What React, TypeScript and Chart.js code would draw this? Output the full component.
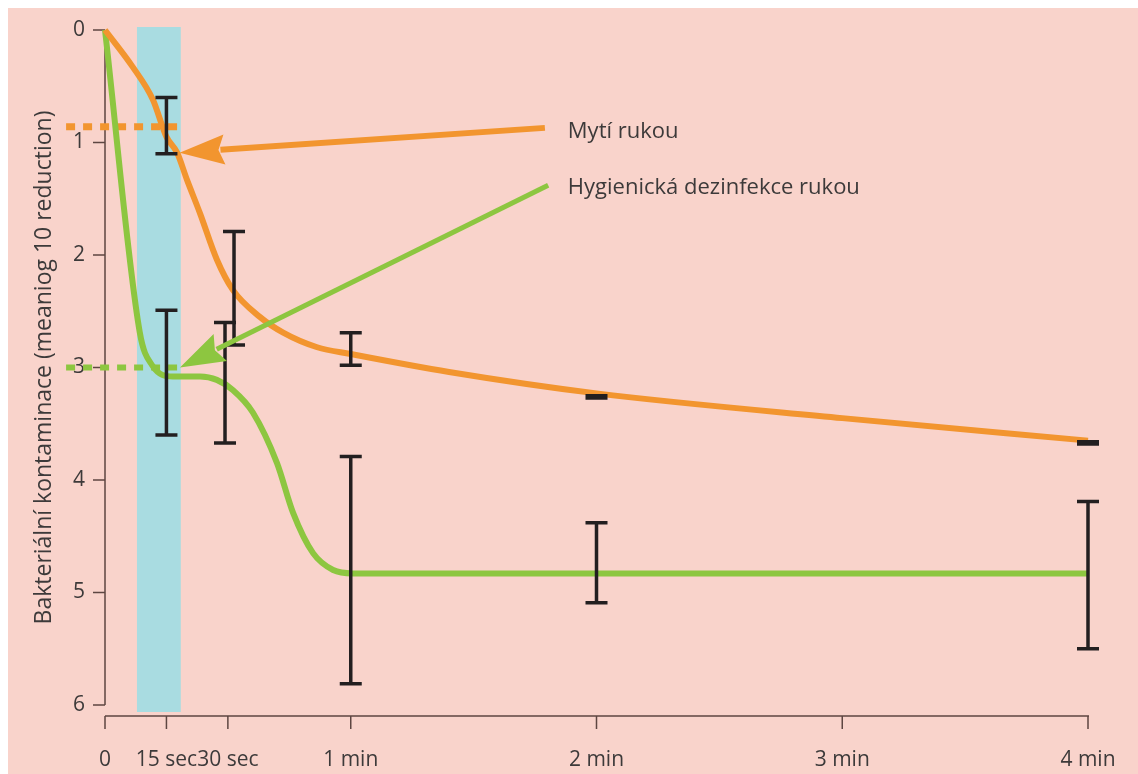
import React, { useEffect, useRef } from 'react';
import { Chart, registerables } from 'chart.js';

Chart.register(...registerables);

// ---- data ----
const X_TICKS = [0, 15, 30, 60, 120, 180, 240];
const X_TICK_LABELS = ['0', '15 sec', '30 sec', '1 min', '2 min', '3 min', '4 min'];
const Y_TICKS = [0, 1, 2, 3, 4, 5, 6];

const ORANGE_X = [0, 6.8, 11.7, 15, 17.6, 20, 23.2, 27.3, 31.2, 37.8, 43.5, 51.8, 60, 84, 120, 180, 240];
const ORANGE_Y = [0, 0.33, 0.62, 0.95, 1.09, 1.33, 1.63, 2.04, 2.31, 2.55, 2.69, 2.82, 2.88, 3.04, 3.23, 3.45, 3.65];

const GREEN_X = [0, 8.5, 11.5, 16.6, 23.2, 27.3, 31.2, 36.1, 42, 45.9, 50.8, 55.7, 60.5, 120, 240];
const GREEN_Y = [0, 2.69, 2.98, 3.08, 3.08, 3.11, 3.2, 3.4, 3.85, 4.29, 4.65, 4.8, 4.83, 4.83, 4.83];

const ORANGE_ERR_X = [15, 31.5, 60, 120, 240];
const ORANGE_ERR_LOW = [0.6, 1.79, 2.69, 3.25, 3.66];
const ORANGE_ERR_HIGH = [1.1, 2.8, 2.98, 3.27, 3.68];

const GREEN_ERR_X = [15, 29.3, 60, 120, 240];
const GREEN_ERR_LOW = [2.49, 2.6, 3.79, 4.38, 4.19];
const GREEN_ERR_HIGH = [3.6, 3.67, 5.81, 5.09, 5.5];

const BAND_RANGE = [7.8, 18.5];

const SERIES_NAMES = ['Mytí rukou', 'Hygienická dezinfekce rukou'];
const REF_LEVELS = [0.86, 3.0];
const REF_X_RANGE = [-9.5, 19];
// arrows: [fromX, fromY, toX, toY] in data units
const ORANGE_ARROW = [107.4, 0.87, 18.2, 1.09];
const GREEN_ARROW = [108.2, 1.38, 18.3, 3.0];
const LABEL_POS = [[113, 0.9], [113, 1.4]];

const Y_TITLE = 'Bakteriální kontaminace (meaniog 10 reduction)';

// ---- styles ----
const BG = '#f9d3cb';
const ORANGE = '#f2952f';
const GREEN = '#8dc640';
const BAND = '#a9dce1';
const BAR = '#231f20';
const AXIS = '#5e4642';
const TEXT = '#3d3a3a';
const FONT = '"Open Sans", "Noto Sans", sans-serif';

function drawArrow(ctx: CanvasRenderingContext2D, x0: number, y0: number, x1: number, y1: number, color: string, width: number) {
  const dx = x1 - x0;
  const dy = y1 - y0;
  const len = Math.hypot(dx, dy);
  const ux = dx / len;
  const uy = dy / len;
  const headLen = 45;
  const headHalf = 15;
  const bx = x1 - ux * headLen;
  const by = y1 - uy * headLen;
  ctx.save();
  ctx.strokeStyle = color;
  ctx.fillStyle = color;
  ctx.lineWidth = width;
  ctx.lineCap = 'butt';
  ctx.beginPath();
  ctx.moveTo(x0, y0);
  ctx.lineTo(bx + ux * 4, by + uy * 4);
  ctx.stroke();
  ctx.beginPath();
  ctx.moveTo(x1, y1);
  ctx.lineTo(bx - uy * headHalf, by + ux * headHalf);
  ctx.lineTo(bx + ux * 6, by + uy * 6);
  ctx.lineTo(bx + uy * headHalf, by - ux * headHalf);
  ctx.closePath();
  ctx.fill();
  ctx.restore();
}

const customPlugin = {
  id: 'custom',
  beforeDraw(chart: any) {
    const { ctx, width, height } = chart;
    ctx.save();
    ctx.fillStyle = BG;
    ctx.fillRect(0, 0, width, height);
    ctx.restore();
  },
  beforeDatasetsDraw(chart: any) {
    const { ctx, chartArea, scales } = chart;
    const x = scales.x;
    const y = scales.y;
    ctx.save();
    // band
    const bx0 = x.getPixelForValue(BAND_RANGE[0]);
    const bx1 = x.getPixelForValue(BAND_RANGE[1]);
    ctx.fillStyle = BAND;
    ctx.fillRect(bx0, chartArea.top - 3, bx1 - bx0, chartArea.bottom - chartArea.top + 10);

    // axes
    ctx.strokeStyle = AXIS;
    ctx.lineWidth = 1.5;
    ctx.beginPath();
    ctx.moveTo(chartArea.left, chartArea.top);
    ctx.lineTo(chartArea.left, chartArea.bottom);
    for (const v of Y_TICKS) {
      const py = y.getPixelForValue(v);
      ctx.moveTo(chartArea.left - 12, py);
      ctx.lineTo(chartArea.left, py);
    }
    const ay = chartArea.bottom + 11;
    ctx.moveTo(chartArea.left, ay);
    ctx.lineTo(chartArea.right + 1, ay);
    for (const v of X_TICKS) {
      const px = x.getPixelForValue(v);
      ctx.moveTo(px, ay);
      ctx.lineTo(px, ay + 13);
    }
    ctx.stroke();

    // dashed reference lines
    const colors = [ORANGE, GREEN];
    const widths = [7, 6];
    REF_LEVELS.forEach((lv, i) => {
      ctx.strokeStyle = colors[i];
      ctx.lineWidth = widths[i];
      ctx.setLineDash([9, 8]);
      ctx.beginPath();
      const py = y.getPixelForValue(lv);
      ctx.moveTo(x.getPixelForValue(REF_X_RANGE[0]), py);
      ctx.lineTo(x.getPixelForValue(REF_X_RANGE[1]), py);
      ctx.stroke();
    });
    ctx.setLineDash([]);
    ctx.restore();
  },
  afterDatasetsDraw(chart: any) {
    const { ctx, scales } = chart;
    const x = scales.x;
    const y = scales.y;
    ctx.save();
    // error bars
    ctx.strokeStyle = BAR;
    ctx.lineWidth = 3.5;
    const drawBars = (xs: number[], lo: number[], hi: number[]) => {
      xs.forEach((xv, i) => {
        const px = x.getPixelForValue(xv);
        const p0 = y.getPixelForValue(lo[i]);
        const p1 = y.getPixelForValue(hi[i]);
        ctx.beginPath();
        ctx.moveTo(px, p0);
        ctx.lineTo(px, p1);
        ctx.moveTo(px - 11, p0);
        ctx.lineTo(px + 11, p0);
        ctx.moveTo(px - 11, p1);
        ctx.lineTo(px + 11, p1);
        ctx.stroke();
      });
    };
    drawBars(ORANGE_ERR_X, ORANGE_ERR_LOW, ORANGE_ERR_HIGH);
    drawBars(GREEN_ERR_X, GREEN_ERR_LOW, GREEN_ERR_HIGH);

    // arrows
    drawArrow(ctx, x.getPixelForValue(ORANGE_ARROW[0]), y.getPixelForValue(ORANGE_ARROW[1]),
      x.getPixelForValue(ORANGE_ARROW[2]), y.getPixelForValue(ORANGE_ARROW[3]), ORANGE, 6);
    drawArrow(ctx, x.getPixelForValue(GREEN_ARROW[0]), y.getPixelForValue(GREEN_ARROW[1]),
      x.getPixelForValue(GREEN_ARROW[2]), y.getPixelForValue(GREEN_ARROW[3]), GREEN, 5);

    // labels
    ctx.fillStyle = TEXT;
    ctx.font = `22px ${FONT}`;
    ctx.textAlign = 'left';
    ctx.textBaseline = 'middle';
    SERIES_NAMES.forEach((name, i) => {
      ctx.fillText(name, x.getPixelForValue(LABEL_POS[i][0]), y.getPixelForValue(LABEL_POS[i][1]));
    });
    ctx.restore();
  },
};

export default function App() {
  const ref = useRef<HTMLCanvasElement>(null);
  useEffect(() => {
    const canvas = ref.current;
    if (!canvas) return;
    const chart = new Chart(canvas, {
      type: 'line',
      data: {
        datasets: [
          {
            label: SERIES_NAMES[0],
            data: ORANGE_X.map((v, i) => ({ x: v, y: ORANGE_Y[i] })),
            borderColor: ORANGE,
            borderWidth: 6,
            pointRadius: 0,
            cubicInterpolationMode: 'monotone',
            fill: false,
            clip: false,
          } as any,
          {
            label: SERIES_NAMES[1],
            data: GREEN_X.map((v, i) => ({ x: v, y: GREEN_Y[i] })),
            borderColor: GREEN,
            borderWidth: 6,
            pointRadius: 0,
            cubicInterpolationMode: 'monotone',
            fill: false,
            clip: false,
          } as any,
        ],
      },
      options: {
        animation: false,
        responsive: false,
        layout: { padding: { top: 22, right: 50, left: 0, bottom: 0 } },
        plugins: { legend: { display: false }, tooltip: { enabled: false } },
        scales: {
          x: {
            type: 'linear',
            min: 0,
            max: 240,
            grid: { display: false, drawTicks: false },
            border: { display: false },
            afterBuildTicks: (s: any) => {
              s.ticks = X_TICKS.map((v) => ({ value: v }));
            },
            afterFit: (s: any) => {
              s.height = 69;
              s.paddingLeft = 0;
              s.paddingRight = 0;
              s.paddingTop = 0;
              s.paddingBottom = 0;
            },
            ticks: {
              autoSkip: false,
              maxRotation: 0,
              padding: 42,
              color: TEXT,
              font: { family: FONT, size: 21 },
              callback: (v: any) => {
                const idx = X_TICKS.indexOf(Number(v));
                return idx >= 0 ? X_TICK_LABELS[idx] : '';
              },
            },
          },
          y: {
            type: 'linear',
            reverse: true,
            min: 0,
            max: 6,
            grid: { display: false, drawTicks: false },
            border: { display: false },
            afterBuildTicks: (s: any) => {
              s.ticks = Y_TICKS.map((v) => ({ value: v }));
            },
            afterFit: (s: any) => {
              s.width = 97;
              s.paddingLeft = 0;
              s.paddingRight = 0;
              s.paddingTop = 0;
              s.paddingBottom = 0;
            },
            ticks: {
              padding: 20,
              color: TEXT,
              font: { family: FONT, size: 21 },
            },
            title: {
              display: true,
              text: Y_TITLE,
              color: TEXT,
              font: { family: FONT, size: 23 },
              padding: { top: 23, bottom: 0 },
            },
          },
        },
      } as any,
      plugins: [customPlugin],
    });
    return () => chart.destroy();
  }, []);
  return (
    <div style={{ position: 'fixed', left: 8, top: 8, width: 1130, height: 766 }}>
      <canvas ref={ref} width={1130} height={766} style={{ display: 'block', width: 1130, height: 766 }} />
    </div>
  );
}
